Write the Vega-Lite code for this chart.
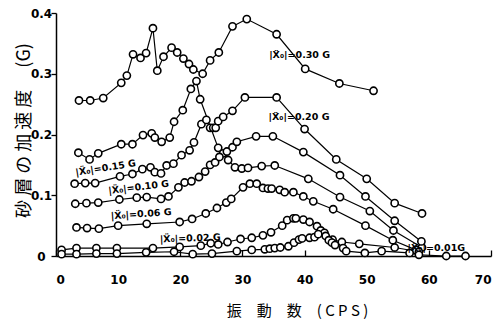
{
  "$schema": "https://vega.github.io/schema/vega-lite/v6.json",
  "width": 435,
  "height": 243,
  "autosize": "none",
  "padding": {"left": 56, "top": 13, "right": 5, "bottom": 67},
  "background": "white",
  "config": {
    "view": {"stroke": null},
    "axis": {"grid": false, "domainColor": "black", "domainWidth": 1.5, "tickColor": "black", "tickWidth": 1.3, "labelColor": "black", "labelFont": "DejaVu Sans", "labelFontWeight": "bold", "labelFontSize": 12, "titleColor": "black"}
  },
  "datasets": {
    "pts": [
      {"s":"A","x":3.7,"y":0.256},{"s":"A","x":5.5,"y":0.256},{"s":"A","x":7.6,"y":0.260},{"s":"A","x":10.5,"y":0.285},{"s":"A","x":11.4,"y":0.297},{"s":"A","x":12.4,"y":0.332},{"s":"A","x":13.6,"y":0.326},{"s":"A","x":14.5,"y":0.334},{"s":"A","x":15.6,"y":0.375},{"s":"A","x":16.3,"y":0.305},{"s":"A","x":17.3,"y":0.328},{"s":"A","x":18.6,"y":0.343},{"s":"A","x":19.5,"y":0.335},{"s":"A","x":20.5,"y":0.325},{"s":"A","x":21.4,"y":0.316},{"s":"A","x":22.1,"y":0.307},{"s":"A","x":23.6,"y":0.300},{"s":"A","x":24.8,"y":0.322},{"s":"A","x":26.2,"y":0.335},{"s":"A","x":28.4,"y":0.378},{"s":"A","x":30.7,"y":0.390},{"s":"A","x":35.5,"y":0.365},{"s":"A","x":40.1,"y":0.308},{"s":"A","x":45.6,"y":0.284},{"s":"A","x":51.1,"y":0.272},
      {"s":"B","x":3.6,"y":0.170},{"s":"B","x":5.4,"y":0.159},{"s":"B","x":6.8,"y":0.169},{"s":"B","x":10.5,"y":0.184},{"s":"B","x":12.3,"y":0.184},{"s":"B","x":14.0,"y":0.199},{"s":"B","x":15.4,"y":0.202},{"s":"B","x":15.9,"y":0.195},{"s":"B","x":17.0,"y":0.188},{"s":"B","x":18.3,"y":0.195},{"s":"B","x":19.0,"y":0.221},{"s":"B","x":20.4,"y":0.240},{"s":"B","x":21.7,"y":0.275},{"s":"B","x":22.6,"y":0.288},{"s":"B","x":23.2,"y":0.258},{"s":"B","x":26.1,"y":0.178},{"s":"B","x":26.9,"y":0.169},{"s":"B","x":27.7,"y":0.158},{"s":"B","x":28.8,"y":0.146},{"s":"B","x":29.9,"y":0.144},{"s":"B","x":30.9,"y":0.145},{"s":"B","x":33.1,"y":0.148},{"s":"B","x":35.2,"y":0.149},{"s":"B","x":40.6,"y":0.127},{"s":"B","x":45.7,"y":0.097},{"s":"B","x":50.5,"y":0.074},{"s":"B","x":54.3,"y":0.042},{"s":"B","x":58.9,"y":0.014},
      {"s":"C","x":3.0,"y":0.119},{"s":"C","x":4.7,"y":0.120},{"s":"C","x":6.3,"y":0.120},{"s":"C","x":10.3,"y":0.131},{"s":"C","x":12.3,"y":0.135},{"s":"C","x":13.9,"y":0.143},{"s":"C","x":15.2,"y":0.146},{"s":"C","x":15.9,"y":0.138},{"s":"C","x":16.9,"y":0.136},{"s":"C","x":17.8,"y":0.149},{"s":"C","x":18.9,"y":0.152},{"s":"C","x":20.2,"y":0.166},{"s":"C","x":21.5,"y":0.174},{"s":"C","x":22.2,"y":0.187},{"s":"C","x":23.4,"y":0.217},{"s":"C","x":24.2,"y":0.224},{"s":"C","x":24.8,"y":0.211},{"s":"C","x":25.3,"y":0.211},{"s":"C","x":25.7,"y":0.211},{"s":"C","x":26.1,"y":0.222},{"s":"C","x":26.9,"y":0.229},{"s":"C","x":28.4,"y":0.239},{"s":"C","x":30.4,"y":0.261},{"s":"C","x":35.5,"y":0.261},{"s":"C","x":40.0,"y":0.209},{"s":"C","x":45.1,"y":0.159},{"s":"C","x":50.0,"y":0.127},{"s":"C","x":54.5,"y":0.087},{"s":"C","x":58.9,"y":0.070},
      {"s":"D","x":3.1,"y":0.086},{"s":"D","x":4.9,"y":0.087},{"s":"D","x":6.8,"y":0.088},{"s":"D","x":10.2,"y":0.093},{"s":"D","x":13.0,"y":0.096},{"s":"D","x":14.6,"y":0.097},{"s":"D","x":16.9,"y":0.094},{"s":"D","x":18.1,"y":0.098},{"s":"D","x":19.7,"y":0.113},{"s":"D","x":20.7,"y":0.121},{"s":"D","x":21.8,"y":0.123},{"s":"D","x":23.0,"y":0.130},{"s":"D","x":24.0,"y":0.139},{"s":"D","x":24.8,"y":0.150},{"s":"D","x":25.6,"y":0.154},{"s":"D","x":26.3,"y":0.163},{"s":"D","x":27.5,"y":0.172},{"s":"D","x":28.4,"y":0.179},{"s":"D","x":29.1,"y":0.188},{"s":"D","x":32.2,"y":0.197},{"s":"D","x":34.9,"y":0.197},{"s":"D","x":39.8,"y":0.171},{"s":"D","x":45.7,"y":0.133},{"s":"D","x":49.8,"y":0.098},{"s":"D","x":54.5,"y":0.058},{"s":"D","x":58.8,"y":0.024},
      {"s":"E","x":3.3,"y":0.047},{"s":"E","x":5.0,"y":0.046},{"s":"E","x":6.9,"y":0.045},{"s":"E","x":10.0,"y":0.050},{"s":"E","x":14.6,"y":0.053},{"s":"E","x":19.9,"y":0.056},{"s":"E","x":21.9,"y":0.061},{"s":"E","x":24.1,"y":0.070},{"s":"E","x":25.9,"y":0.079},{"s":"E","x":27.4,"y":0.088},{"s":"E","x":28.2,"y":0.094},{"s":"E","x":30.1,"y":0.113},{"s":"E","x":31.2,"y":0.119},{"s":"E","x":32.3,"y":0.119},{"s":"E","x":33.3,"y":0.112},{"s":"E","x":34.1,"y":0.111},{"s":"E","x":34.7,"y":0.111},{"s":"E","x":36.0,"y":0.109},{"s":"E","x":36.8,"y":0.105},{"s":"E","x":38.2,"y":0.105},{"s":"E","x":39.8,"y":0.098},{"s":"E","x":41.4,"y":0.090},{"s":"E","x":44.6,"y":0.077},{"s":"E","x":49.8,"y":0.050},{"s":"E","x":54.2,"y":0.026},{"s":"E","x":57.9,"y":0.010},
      {"s":"F","x":0.9,"y":0.010},{"s":"F","x":3.3,"y":0.013},{"s":"F","x":6.5,"y":0.013},{"s":"F","x":9.8,"y":0.013},{"s":"F","x":15.6,"y":0.013},{"s":"F","x":19.9,"y":0.015},{"s":"F","x":23.3,"y":0.017},{"s":"F","x":24.9,"y":0.021},{"s":"F","x":26.1,"y":0.019},{"s":"F","x":27.6,"y":0.023},{"s":"F","x":29.7,"y":0.028},{"s":"F","x":31.5,"y":0.030},{"s":"F","x":33.3,"y":0.034},{"s":"F","x":34.6,"y":0.039},{"s":"F","x":36.4,"y":0.050},{"s":"F","x":37.2,"y":0.059},{"s":"F","x":38.2,"y":0.062},{"s":"F","x":38.6,"y":0.062},{"s":"F","x":39.8,"y":0.060},{"s":"F","x":40.8,"y":0.056},{"s":"F","x":42.0,"y":0.049},{"s":"F","x":42.6,"y":0.042},{"s":"F","x":43.2,"y":0.038},{"s":"F","x":44.5,"y":0.027},{"s":"F","x":46.0,"y":0.023},{"s":"F","x":48.8,"y":0.020},{"s":"F","x":54.5,"y":0.014},{"s":"F","x":58.4,"y":0.007},
      {"s":"G","x":0.9,"y":0.003},{"s":"G","x":3.3,"y":0.003},{"s":"G","x":6.5,"y":0.004},{"s":"G","x":9.8,"y":0.004},{"s":"G","x":14.5,"y":0.006},{"s":"G","x":19.0,"y":0.007},{"s":"G","x":22.0,"y":0.003},{"s":"G","x":25.1,"y":0.004},{"s":"G","x":29.1,"y":0.008},{"s":"G","x":31.5,"y":0.010},{"s":"G","x":33.6,"y":0.011},{"s":"G","x":34.4,"y":0.012},{"s":"G","x":35.2,"y":0.013},{"s":"G","x":36.1,"y":0.014},{"s":"G","x":37.4,"y":0.016},{"s":"G","x":38.3,"y":0.022},{"s":"G","x":39.1,"y":0.027},{"s":"G","x":39.6,"y":0.029},{"s":"G","x":40.8,"y":0.030},{"s":"G","x":41.6,"y":0.031},{"s":"G","x":42.2,"y":0.036},{"s":"G","x":43.4,"y":0.033},{"s":"G","x":43.9,"y":0.026},{"s":"G","x":44.4,"y":0.022},{"s":"G","x":44.9,"y":0.018},{"s":"G","x":46.2,"y":0.013},{"s":"G","x":46.7,"y":0.008},{"s":"G","x":49.7,"y":0.005},{"s":"G","x":52.4,"y":0.008},{"s":"G","x":56.9,"y":0.005},{"s":"G","x":58.4,"y":0.002},{"s":"G","x":62.8,"y":0.0},{"s":"G","x":65.9,"y":0.0}
    ],
    "labels": [
      {"t":"|Ẍ₀|=0.30 G","x":39.2,"y":0.331,"a":0,"al":"left"},
      {"t":"|Ẍ₀|=0.20 G","x":39.1,"y":0.229,"a":0,"al":"left"},
      {"t":"|Ẍ₀|=0.15 G","x":8.0,"y":0.145,"a":-9,"al":"center"},
      {"t":"|Ẍ₀|=0.10 G","x":13.3,"y":0.113,"a":-7,"al":"center"},
      {"t":"|Ẍ₀|=0.06 G","x":13.7,"y":0.069,"a":-4,"al":"center"},
      {"t":"|Ẍ₀|=0.02 G","x":21.6,"y":0.029,"a":-2,"al":"center"},
      {"t":"|Ẍ₀|=0.01G","x":61.2,"y":0.013,"a":0,"al":"left"}
    ]
  },
  "layer": [
    {
      "data": {"name": "pts"},
      "mark": {"type": "line", "color": "black", "strokeWidth": 1.2},
      "encoding": {
        "x": {"field": "x", "type": "quantitative", "scale": {"domain": [0, 70], "nice": false},
          "axis": {"values": [0,10,20,30,40,50,60,70], "tickSize": -6, "labelPadding": 24, "title": "振　動　数　( C P S )", "titleFont": "Noto Sans CJK JP", "titleFontSize": 15, "titleFontWeight": "normal", "titleX": 241, "titleY": 54, "titleAlign": "center", "titleBaseline": "middle"}},
        "y": {"field": "y", "type": "quantitative", "scale": {"domain": [0, 0.4], "nice": false},
          "axis": {"values": [0,0.1,0.2,0.3,0.4], "format": "~g", "tickSize": 5, "labelPadding": 10, "labelAlign": "center", "title": "砂 層 の 加 速 度　 (G)", "titleFont": "Noto Sans CJK JP", "titleFontSize": 18, "titleFontWeight": "normal", "titleAngle": -90, "titleX": -32, "titleY": 117, "titleAlign": "center", "titleBaseline": "middle"}},
        "detail": {"field": "s"}
      }
    },
    {
      "data": {"name": "pts"},
      "mark": {"type": "point", "shape": "circle", "filled": false, "fill": "white", "fillOpacity": 1, "stroke": "black", "strokeWidth": 1.6, "size": 52, "opacity": 1},
      "encoding": {
        "x": {"field": "x", "type": "quantitative"},
        "y": {"field": "y", "type": "quantitative"}
      }
    },
    {
      "data": {"name": "labels"},
      "mark": {"type": "text", "font": "DejaVu Sans", "fontWeight": "bold", "fontSize": 9.5, "baseline": "middle", "fill": "black", "color": "black"},
      "encoding": {
        "x": {"field": "x", "type": "quantitative"},
        "y": {"field": "y", "type": "quantitative"},
        "text": {"field": "t"},
        "angle": {"field": "a", "type": "quantitative", "scale": null},
        "align": {"field": "al", "type": "nominal", "scale": null}
      }
    }
  ]
}
